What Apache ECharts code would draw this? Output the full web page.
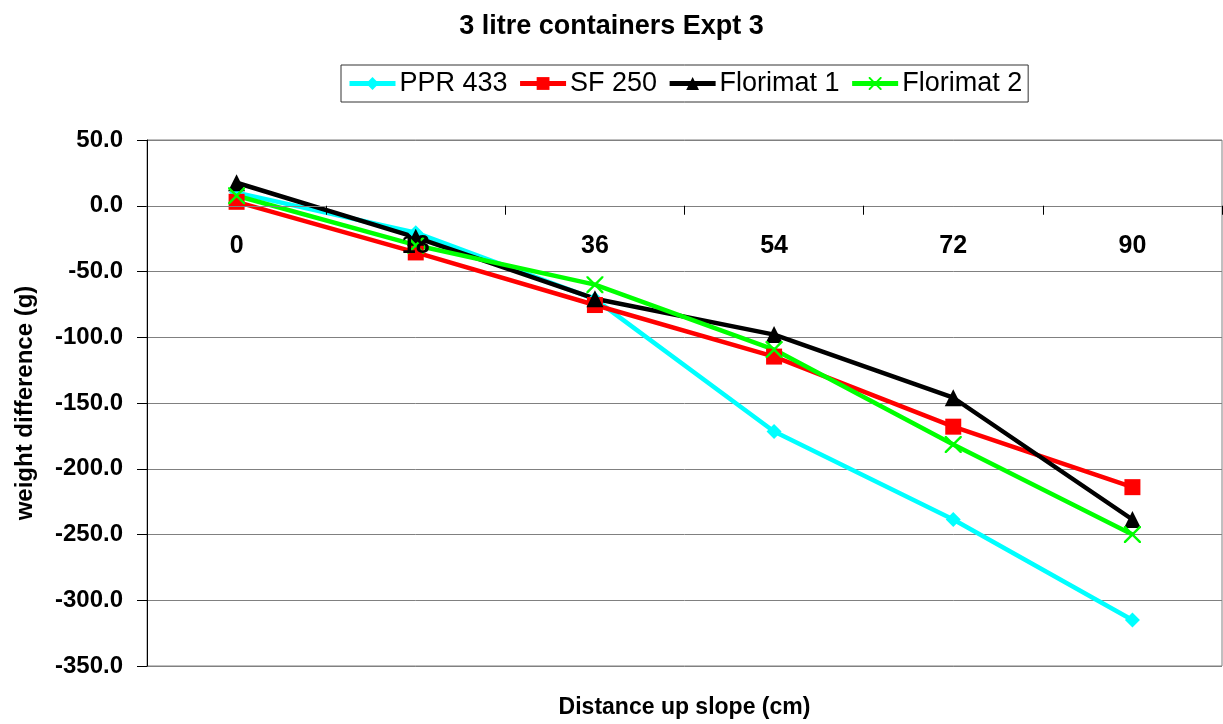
<!DOCTYPE html>
<html>
<head>
<meta charset="utf-8">
<title>3 litre containers Expt 3</title>
<script src="https://cdn.jsdelivr.net/npm/echarts@6/dist/echarts.min.js"></script>
<style>
  html, body { margin: 0; padding: 0; background: #ffffff; }
  #chart { width: 1223px; height: 724px; }
</style>
</head>
<body>
<div id="chart"></div>
<script>
// Distance up slope (cm)
const categories = ['0', '18', '36', '54', '72', '90'];

// Weight difference (g) for each container type
const ppr433    = [10, -20.5, -71, -171.7, -238.6, -315];
const sf250     = [3, -35.5, -75.5, -114.7, -168, -214];
const florimat1 = [17.5, -24, -70.7, -98, -146, -238.6];
const florimat2 = [7.6, -30, -60, -109.4, -181.6, -250];

// Value axis range and step
const yMin = -350;
const yMax = 50;
const yStep = 50;

const seriesNames = ['PPR 433', 'SF 250', 'Florimat 1', 'Florimat 2'];

const FONT = "'Liberation Sans', Arial, sans-serif";

// plot area placement
const GRID = { left: 147, right: 1, top: 140, bottom: 58 };
const CHART_H = 724;

// thin diagonal cross used as a marker
const crossPath = 'path://M0,0 L1.6,0 L8,6.4 L14.4,0 L16,0 L16,1.6 L9.6,8 L16,14.4 L16,16 L14.4,16 L8,9.6 L1.6,16 L0,16 L0,14.4 L6.4,8 L0,1.6 Z';

function lineSeries(name, data, color, symbol, size) {
  return {
    name: name,
    type: 'line',
    data: data,
    symbol: symbol,
    symbolSize: size,
    showSymbol: true,
    lineStyle: { color: color, width: 4.5 },
    itemStyle: { color: color, borderWidth: 0 },
    emphasis: { disabled: true },
    animation: false
  };
}

// the category axis runs along the zero line: shift it up from the plot bottom
const plotH = CHART_H - GRID.top - GRID.bottom;
const zeroShift = plotH * (0 - yMin) / (yMax - yMin);

const chart = echarts.init(document.getElementById('chart'), null, { renderer: 'canvas' });

chart.setOption({
  backgroundColor: '#ffffff',
  title: {
    text: '3 litre containers Expt 3',
    left: 'center',
    top: 8,
    textStyle: { fontFamily: FONT, fontWeight: 'bold', fontSize: 27, color: '#000' }
  },
  legend: {
    data: seriesNames,
    top: 65,
    left: 341,
    padding: [5, 6, 5, 6],
    itemGap: 10,
    itemWidth: 46,
    itemHeight: 16,
    borderColor: '#333',
    borderWidth: 1,
    borderRadius: 0,
    lineStyle: { width: 5 },
    textStyle: { fontFamily: FONT, fontSize: 27, color: '#000', padding: [0, 0, 0, -1] }
  },
  grid: {
    left: GRID.left,
    right: GRID.right,
    top: GRID.top,
    bottom: GRID.bottom,
    containLabel: false,
    outerBoundsMode: 'none',
    show: true,
    borderColor: '#808080',
    borderWidth: 1
  },
  xAxis: {
    type: 'category',
    data: categories,
    boundaryGap: true,
    position: 'bottom',
    offset: -zeroShift,
    z: 5,
    name: 'Distance up slope (cm)',
    nameLocation: 'middle',
    nameGap: 490,
    nameMoveOverlap: false,
    nameTextStyle: { fontFamily: FONT, fontWeight: 'bold', fontSize: 23, color: '#000' },
    axisLine: { onZero: false, lineStyle: { color: '#808080', width: 1 } },
    axisTick: { show: true, inside: false, length: 9, lineStyle: { color: '#000' } },
    axisLabel: {
      margin: 28,
      interval: 0,
      hideOverlap: false,
      fontFamily: FONT,
      fontWeight: 'bold',
      fontSize: 25,
      color: '#000'
    },
    splitLine: { show: false }
  },
  yAxis: {
    type: 'value',
    min: yMin,
    max: yMax,
    interval: yStep,
    name: 'weight difference (g)',
    nameLocation: 'middle',
    nameRotate: 90,
    nameGap: 110,
    nameTextStyle: { fontFamily: FONT, fontWeight: 'bold', fontSize: 24, color: '#000' },
    axisLine: { show: true, lineStyle: { color: '#000', width: 1 } },
    axisTick: { show: true, inside: false, length: 10, lineStyle: { color: '#000' } },
    axisLabel: {
      margin: 24,
      fontFamily: FONT,
      fontWeight: 'bold',
      fontSize: 24,
      color: '#000',
      formatter: function (v) { return v.toFixed(1); }
    },
    splitLine: { show: true, lineStyle: { color: '#808080', width: 1 } }
  },
  series: [
    lineSeries(seriesNames[0], ppr433, '#00FFFF', 'diamond', 15),
    lineSeries(seriesNames[1], sf250, '#FF0000', 'rect', 16),
    lineSeries(seriesNames[2], florimat1, '#000000', 'triangle', 17),
    lineSeries(seriesNames[3], florimat2, '#00FF00', crossPath, 17)
  ]
});
</script>
</body>
</html>
